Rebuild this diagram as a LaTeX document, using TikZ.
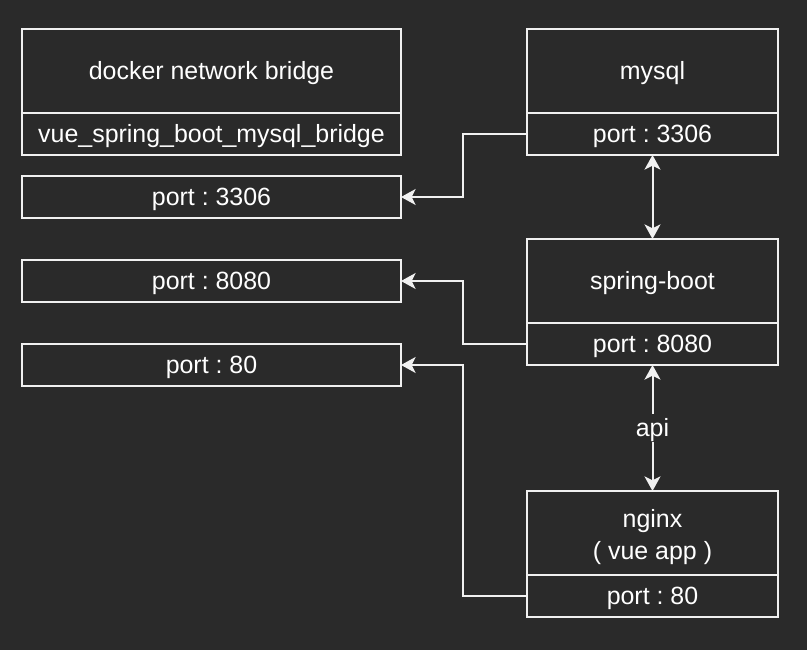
\documentclass[tikz,border=0pt]{standalone}
\usepackage{fontspec}
\setmainfont{Liberation Sans}
\frenchspacing
\usetikzlibrary{arrows.meta}
\definecolor{bgdark}{HTML}{2A2A2A}
\definecolor{linelight}{HTML}{F0F0F0}
\begin{document}
\begin{tikzpicture}[x=0.75pt, y=-0.75pt, >={Stealth[length=11pt, width=12pt, inset=3pt]},
   every node/.style={text=white, font=\fontsize{18.7}{24}\selectfont},
   box/.style={draw=linelight, line width=1.5pt, inner sep=0pt, outer sep=0pt, align=center},
   oneline/.style={text height=15pt, text depth=2.6pt},
   twoline/.style={text height=43pt, text depth=4pt},
   widebox/.style={box, minimum width=284.25pt},
   narrowbox/.style={box, minimum width=188.25pt},
   tall/.style={minimum height=63pt},
   short/.style={minimum height=31.5pt},
   link/.style={draw=linelight, line width=1.5pt}
   ]
   
   \fill[bgdark] (0,0) rectangle (807,650);
   \useasboundingbox (0,0) rectangle (807,650);
   
   \path (211.5,71) node[widebox, tall, oneline] (bridge) {docker network bridge}
   (211.5,134) node[widebox, short, oneline] (bridgename) {vue\_spring\_boot\_mysql\_bridge};
   \path (211.5,197) node[widebox, short, oneline] (hostA) {port : 3306}
   (211.5,281) node[widebox, short, oneline] (hostB) {port : 8080}
   (211.5,365) node[widebox, short, oneline] (hostC) {port : 80};
   
   \path (652.5,71) node[narrowbox, tall, oneline] (mysql) {mysql}
   (652.5,134) node[narrowbox, short, oneline] (mysqlport) {port : 3306};
   \path (652.5,281) node[narrowbox, tall, oneline] (spring) {spring-boot}
   (652.5,344) node[narrowbox, short, oneline] (springport) {port : 8080};
   \path (652.5,533) node[narrowbox, tall, twoline] (nginx) {nginx\\( vue app )}
   (652.5,596) node[narrowbox, short, oneline] (nginxport) {port : 80};
   
   \draw[link, ->] (mysqlport.west) -- ++(-64,0) |- (hostA);
   \draw[link, ->] (springport.west) -- ++(-64,0) |- (hostB);
   \draw[link, ->] (nginxport.west) -- ++(-64,0) |- (hostC);
   
   \draw[link, <->] (mysqlport) -- (spring);
   \draw[link, <->] (springport) -- node[fill=bgdark, inner sep=2pt, oneline] (api) {api} (nginx);
   
\end{tikzpicture}
\end{document}
